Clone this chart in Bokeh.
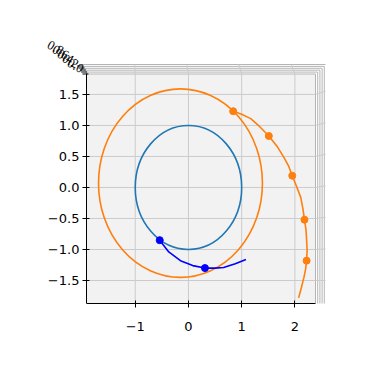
import numpy as np
from bokeh.plotting import figure
from bokeh.models import Range1d, FixedTicker, ColumnDataSource, LabelSet
from bokeh.embed import file_html
from bokeh.resources import INLINE

# ---------------- data ----------------
x_ticks = [-1, 0, 1, 2]
x_tick_labels = ["\u22121", "0", "1", "2"]
y_ticks = [-1.5, -1.0, -0.5, 0.0, 0.5, 1.0, 1.5]
y_tick_labels = ["\u22121.5", "\u22121.0", "\u22120.5", "0.0", "0.5", "1.0", "1.5"]
z_tick_labels = ["0.0", "0.2", "0.4", "0.6", "0.8"]

# circles (center, diameters)
inner_cx = [0.0]
inner_cy = [0.0]
inner_w = [2.0]
inner_h = [2.0]
outer_cx = [-0.15]
outer_cy = [0.07]
outer_w = [3.08]
outer_h = [3.04]

# blue trajectory
blue_x = [-0.54, -0.37, -0.15, 0.08, 0.31, 0.50, 0.66, 0.88, 1.08]
blue_y = [-0.85, -1.04, -1.18, -1.26, -1.30, -1.30, -1.29, -1.23, -1.16]
blue_dot_x = [-0.54, 0.31]
blue_dot_y = [-0.85, -1.30]

# orange trajectory
orange_x = [0.84, 1.00, 1.17, 1.34, 1.51, 1.66, 1.79, 1.88, 1.95, 2.03, 2.11, 2.15,
            2.18, 2.21, 2.22, 2.23, 2.22, 2.20, 2.17, 2.12, 2.07]
orange_y = [1.23, 1.18, 1.11, 0.98, 0.83, 0.67, 0.49, 0.35, 0.19, 0.02, -0.16, -0.34,
            -0.52, -0.69, -0.85, -1.01, -1.18, -1.32, -1.45, -1.62, -1.78]
orange_dot_x = [0.84, 1.51, 1.95, 2.18, 2.22]
orange_dot_y = [1.23, 0.83, 0.19, -0.52, -1.18]

# ---------------- geometry ----------------
PX_X = 53.2   # pixels per x unit
PX_Y = 62.0   # pixels per y unit
X0, X1 = -2.78, 2.575       # frame range
Y0, Y1 = -1.871, 2.37
PX0, PX1 = -1.917, 2.387    # pane extents
PY0, PY1 = -1.871, 1.83

BLUE = "#1f77b4"
ORANGE = "#ff7f0e"
PANE = "#f2f2f2"
GRID = "#cbcbcb"
EDGE = "#b5b5b5"
FONT = "DejaVu Sans"

p = figure(width=373, height=373, x_range=Range1d(X0, X1), y_range=Range1d(Y0, Y1),
           output_backend="svg", toolbar_location=None,
           min_border_left=40, min_border_right=48, min_border_top=40, min_border_bottom=70)
p.outline_line_color = None
p.xgrid.visible = False
p.ygrid.visible = False
p.background_fill_color = "white"
p.border_fill_color = "white"

# pane
p.quad(left=[PX0], right=[PX1], bottom=[PY0], top=[PY1], fill_color=PANE, line_color=None)

# nested perspective edges (side panes seen edge-on)
dx = 2.2 / PX_X
dy = 1.9 / PX_Y
for i in range(6):
    xs = [PX0 - i * 1.1 / PX_X, PX1 + i * dx, PX1 + i * dx]
    ys = [PY1 + i * dy, PY1 + i * dy, PY0 - i * dy * 1.1]
    p.line(xs, ys, line_color=EDGE, line_width=1)

# grid lines on the pane
p.segment(x0=x_ticks, x1=x_ticks, y0=[PY0] * len(x_ticks), y1=[PY1] * len(x_ticks),
          line_color=GRID, line_width=1)
p.segment(x0=[PX0] * len(y_ticks), x1=[PX1] * len(y_ticks), y0=y_ticks, y1=y_ticks,
          line_color=GRID, line_width=1)
# grid continuation onto side panes
p.segment(x0=x_ticks, x1=[t - 0.02 * t - 0.03 for t in x_ticks],
          y0=[PY1] * len(x_ticks), y1=[PY1 + 5 * dy] * len(x_ticks),
          line_color=GRID, line_width=1)
p.segment(x0=[PX1] * len(y_ticks), x1=[PX1 + 5 * dx] * len(y_ticks),
          y0=y_ticks, y1=[t + 0.02 * t + 0.03 for t in y_ticks],
          line_color=GRID, line_width=1)

# z-axis ticks stacked at the corner
nz = len(z_tick_labels)
p.segment(x0=[PX0 - (i * 1.3 + 4) / PX_X for i in range(nz)],
          x1=[PX0 - (i * 1.3 - 2) / PX_X for i in range(nz)],
          y0=[PY1 + i * 2.0 / PX_Y for i in range(nz)],
          y1=[PY1 + i * 2.0 / PX_Y for i in range(nz)],
          line_color="black", line_width=1)

# circles
p.ellipse(x=inner_cx, y=inner_cy, width=inner_w, height=inner_h,
          fill_color=None, line_color=BLUE, line_width=1.6)
p.ellipse(x=outer_cx, y=outer_cy, width=outer_w, height=outer_h,
          fill_color=None, line_color=ORANGE, line_width=1.6)

# trajectories
p.line(blue_x, blue_y, line_color="#0000ff", line_width=1.6)
p.scatter(blue_dot_x, blue_dot_y, size=7, fill_color="#0000ff", line_color="#0000ff")
p.line(orange_x, orange_y, line_color=ORANGE, line_width=1.6)
p.scatter(orange_dot_x, orange_dot_y, size=7, fill_color=ORANGE, line_color=ORANGE)

# axes
for ax, ticks, labels in ((p.xaxis[0], x_ticks, x_tick_labels), (p.yaxis[0], y_ticks, y_tick_labels)):
    ax.ticker = FixedTicker(ticks=ticks)
    ax.major_label_overrides = {t: l for t, l in zip(ticks, labels)}
    ax.minor_tick_line_color = None
    ax.major_tick_out = 4
    ax.major_tick_in = 3
    ax.axis_line_color = "black"
    ax.major_tick_line_color = "black"
    ax.major_label_text_font = FONT
    ax.major_label_text_font_size = "13px"
    ax.major_label_text_color = "black"
p.xaxis.bounds = (PX0, PX1)
p.yaxis.bounds = (PY0, PY1)
p.yaxis.fixed_location = PX0
p.xaxis.major_label_standoff = 14
p.yaxis.major_label_standoff = 3
p.yaxis.major_label_text_baseline = "top"

# z-axis tick labels crowded at the top-left corner
zsrc = ColumnDataSource(dict(
    x=[PX0 - (31 - 5 * i) / PX_X for i in range(nz)],
    y=[PY1 + (26 - 4.5 * i) / PX_Y for i in range(nz)],
    t=z_tick_labels[::-1]))
p.add_layout(LabelSet(x="x", y="y", text="t", source=zsrc, angle=-0.5,
                      text_font=FONT, text_font_size="13px", text_color="black",
                      text_align="center", text_baseline="middle"))

open("out.html", "w").write(file_html(p, INLINE))
